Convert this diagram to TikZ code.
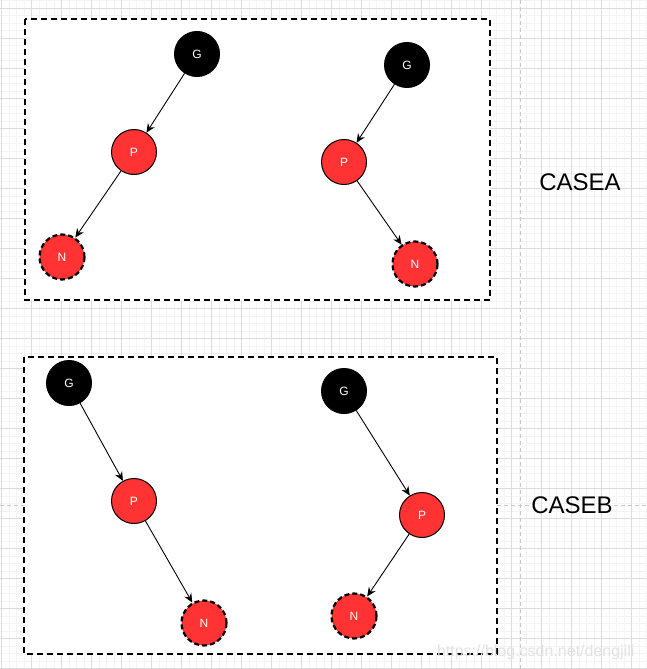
\documentclass[tikz,border=0pt]{standalone}
\usepackage{fontspec}
\setmainfont{Liberation Sans}
\usetikzlibrary{arrows.meta}

\definecolor{nodered}{HTML}{FF3333}
\definecolor{gridmajor}{HTML}{DCDCDC}
\definecolor{gridminor}{HTML}{F4F4F4}
\definecolor{guidegray}{HTML}{C8C8C8}
\definecolor{markgray}{HTML}{E2E2E2}

\tikzset{
  blacknode/.style={circle,draw=black,fill=black,line width=1pt,minimum size=45pt,
    inner sep=0pt,text=white,font=\fontsize{12}{14}\selectfont},
  rednode/.style={blacknode,fill=nodered},
  newnode/.style={rednode,line width=2.2pt,dash pattern=on 5pt off 3pt},
  link/.style={-{Stealth[length=9pt,width=8pt,inset=3pt]},line width=0.9pt},
  casebox/.style={draw=black,fill=white,line width=1.8pt,dash pattern=on 6pt off 4pt},
  guide/.style={draw=guidegray,line width=0.9pt,dash pattern=on 4pt off 3pt},
  caselabel/.style={font=\fontsize{24}{28}\selectfont,inner sep=1pt}
}

\begin{document}
\begin{tikzpicture}[x=1pt,y=-1pt]
\useasboundingbox[fill=white] (0,0) rectangle (647,669);

% background grid
\foreach \gx in {1.7,9.2,...,647} \draw[gridminor,line width=0.6pt] (\gx,0) -- (\gx,669);
\foreach \gy in {0.8,8.3,...,669} \draw[gridminor,line width=0.6pt] (0,\gy) -- (647,\gy);
\foreach \gx in {1.7,31.7,...,647} \draw[gridmajor,line width=0.8pt] (\gx,0) -- (\gx,669);
\foreach \gy in {8.3,38.3,...,669} \draw[gridmajor,line width=0.8pt] (0,\gy) -- (647,\gy);

% case labels and guides
\node[caselabel] (caseA) at (580,182) {CASEA};
\node[caselabel] (caseB) at (572,505) {CASEB};
\coordinate (vtop) at (520,0);
\coordinate (vbot) at (520,669);
\coordinate (hleft) at (0,505);
\coordinate (hright) at (647,505);
\draw[guide] (vtop) -- (vbot);
\draw[guide] (hleft) -- (caseB.west);
\draw[guide] (caseB.east) -- (hright);

% the two boxes
\draw[casebox] (25,19) rectangle (490,300);
\draw[casebox] (24,357) rectangle (497,654);

% case A
\node[blacknode] (gA1) at (197,54) {G};
\node[rednode] (pA1) at (134,152) {P};
\node[newnode] (nA1) at (62,257) {N};
\node[blacknode] (gA2) at (407,65) {G};
\node[rednode] (pA2) at (344,162) {P};
\node[newnode] (nA2) at (415,264) {N};
\draw[link] (gA1) -- (pA1);
\draw[link] (pA1) -- (nA1);
\draw[link] (gA2) -- (pA2);
\draw[link] (pA2) -- (nA2);

% case B
\node[blacknode] (gB1) at (69,383) {G};
\node[rednode] (pB1) at (134,501) {P};
\node[newnode] (nB1) at (204,623) {N};
\node[blacknode] (gB2) at (344,391) {G};
\node[rednode] (pB2) at (422,515) {P};
\node[newnode] (nB2) at (354,616) {N};
\draw[link] (gB1) -- (pB1);
\draw[link] (pB1) -- (nB1);
\draw[link] (gB2) -- (pB2);
\draw[link] (pB2) -- (nB2);

% watermark
\node[text=markgray,font=\fontsize{16}{18}\selectfont,anchor=east] (mark) at (638,652) {https://blog.csdn.net/dengjili};
\end{tikzpicture}
\end{document}
